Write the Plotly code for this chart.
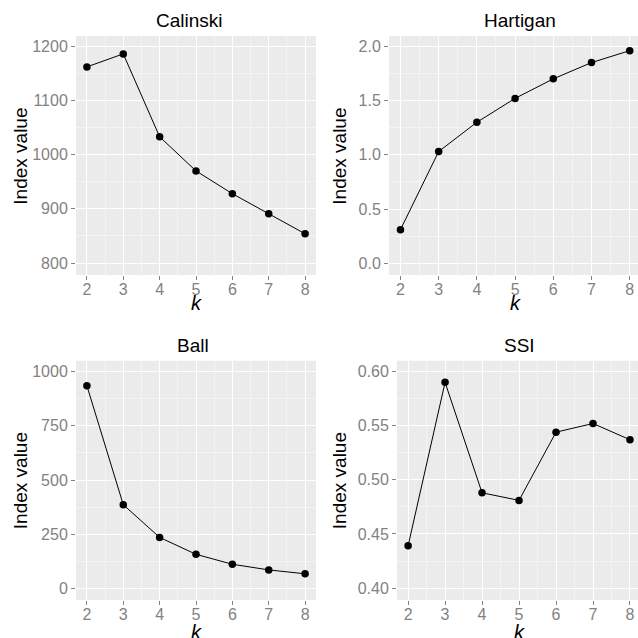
import plotly.graph_objects as go

k_values = [2, 3, 4, 5, 6, 7, 8]
calinski = [1162, 1186, 1033, 970, 928, 891, 854]
hartigan = [0.31, 1.03, 1.30, 1.52, 1.70, 1.85, 1.96]
ball = [935, 386, 235, 157, 111, 85, 67]
ssi = [0.439, 0.590, 0.488, 0.481, 0.544, 0.552, 0.537]

panel_titles = ["Calinski", "Hartigan", "Ball", "SSI"]
y_label = "Index value"
x_label = "k"

W = H = 638
FONT = "Liberation Sans, Arial, Helvetica, sans-serif"
BG = "#EBEBEB"
MINOR = "#F4F4F4"
TICKC = "#828282"

# panel pixel boxes: left, right, top, bottom
panels = [
    dict(l=76, r=316, t=36, b=275, xr=[1.7, 8.3], yr=[778, 1219], ytick=100,
         tickvals=[800, 900, 1000, 1100, 1200], ticktext=["800", "900", "1000", "1100", "1200"]),
    dict(l=389, r=638, t=36, b=275, xr=[1.7, 8.217], yr=[-0.108, 2.095], ytick=0.5,
         tickvals=[0, 0.5, 1.0, 1.5, 2.0], ticktext=["0.0", "0.5", "1.0", "1.5", "2.0"]),
    dict(l=76, r=316, t=360.7, b=600, xr=[1.7, 8.3], yr=[-54, 1051], ytick=250,
         tickvals=[0, 250, 500, 750, 1000], ticktext=["0", "250", "500", "750", "1000"]),
    dict(l=397, r=638, t=360.7, b=600, xr=[1.7, 8.217], yr=[0.389, 0.610], ytick=0.05,
         tickvals=[0.40, 0.45, 0.50, 0.55, 0.60], ticktext=["0.40", "0.45", "0.50", "0.55", "0.60"]),
]
series = [calinski, hartigan, ball, ssi]
title_pos = [(189, 20.7), (519.5, 20.7), (193, 345), (519.5, 345)]
ylab_pos = [(20.7, 156), (339.7, 156), (20.7, 480.5), (339.7, 480.5)]
klab_pos = [(196, 303), (515, 303), (196, 632), (519, 631.5)]

fig = go.Figure()
annotations = []
for i, (p, vals) in enumerate(zip(panels, series)):
    n = "" if i == 0 else str(i + 1)
    fig.add_trace(go.Scatter(
        x=k_values, y=vals, mode="lines+markers",
        line=dict(color="black", width=1),
        marker=dict(color="black", size=7.5),
        xaxis="x" + n, yaxis="y" + n, showlegend=False, cliponaxis=False,
    ))
    xa = dict(
        domain=[p["l"] / W, p["r"] / W], range=p["xr"], anchor="y" + n,
        tickvals=k_values, ticktext=[str(v) for v in k_values],
        showgrid=True, gridcolor="white", gridwidth=1.2,
        minor=dict(dtick=1, tick0=2.5, showgrid=True, gridcolor=MINOR, gridwidth=0.8, ticklen=0),
        ticks="outside", ticklen=4, tickcolor=TICKC, tickwidth=1,
        ticklabelstandoff=-4,
        tickfont=dict(family=FONT, size=16, color=TICKC),
        zeroline=False, showline=False, fixedrange=True,
    )
    ya = dict(
        domain=[1 - p["b"] / H, 1 - p["t"] / H], range=p["yr"], anchor="x" + n,
        tickvals=p["tickvals"], ticktext=p["ticktext"],
        showgrid=True, gridcolor="white", gridwidth=1.2,
        minor=dict(dtick=p["ytick"], tick0=p["tickvals"][0] + p["ytick"] / 2, showgrid=True,
                   gridcolor=MINOR, gridwidth=0.8, ticklen=0),
        ticks="outside", ticklen=4, tickcolor=TICKC, tickwidth=1,
        tickfont=dict(family=FONT, size=16, color=TICKC),
        zeroline=False, showline=False, fixedrange=True,
    )
    fig.update_layout(**{"xaxis" + n: xa, "yaxis" + n: ya})
    # panel background
    fig.add_shape(type="rect", xref="x" + n + " domain", yref="y" + n + " domain",
                  x0=0, x1=1, y0=0, y1=1, fillcolor=BG, line=dict(width=0), layer="below")
    tx, ty = title_pos[i]
    annotations.append(dict(text=panel_titles[i], x=tx / W, y=1 - ty / H, xref="paper", yref="paper",
                            showarrow=False, xanchor="center", yanchor="middle",
                            font=dict(family=FONT, size=19, color="black")))
    lx, ly = ylab_pos[i]
    annotations.append(dict(text=y_label, x=lx / W, y=1 - ly / H, xref="paper", yref="paper",
                            showarrow=False, xanchor="center", yanchor="middle", textangle=-90,
                            font=dict(family=FONT, size=19, color="black")))
    kx, ky = klab_pos[i]
    annotations.append(dict(text="<i>" + x_label + "</i>", x=kx / W, y=1 - ky / H, xref="paper", yref="paper",
                            showarrow=False, xanchor="center", yanchor="middle",
                            font=dict(family=FONT, size=20, color="black")))

fig.update_layout(
    width=W, height=H, margin=dict(l=0, r=0, t=0, b=0),
    paper_bgcolor="white", plot_bgcolor="rgba(0,0,0,0)",
    annotations=annotations, showlegend=False,
)

fig.write_html("out.html", config={"displayModeBar": False},
               post_script="document.body.style.margin='0';document.body.style.overflow='hidden';")
